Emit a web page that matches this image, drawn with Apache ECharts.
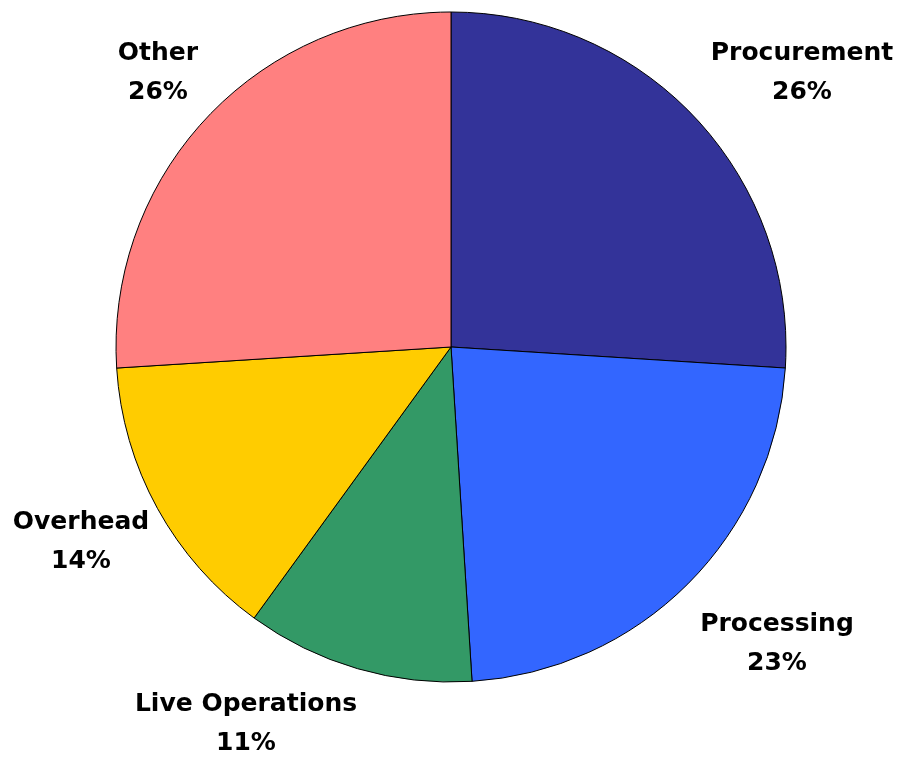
<!DOCTYPE html>
<html>
<head>
<meta charset="utf-8">
<style>
  html, body { margin: 0; padding: 0; background: #ffffff; }
  #chart { width: 900px; height: 760px; }
</style>
<script src="https://cdn.jsdelivr.net/npm/echarts@6/dist/echarts.min.js"></script>
</head>
<body>
<div id="chart"></div>
<script>
// Cost breakdown by area, clockwise from 12 o'clock
const categories = ['Procurement', 'Processing', 'Live Operations', 'Overhead', 'Other'];
const shares = [26, 23, 11, 14, 26];
const colors = ['#333399', '#3366FF', '#339966', '#FFCC00', '#FF8080'];

// Centre of each two-line label block, in pixels, same order as categories
const labelSpots = [[802, 73], [777, 644], [246, 724], [81, 542], [158, 73]];

const chart = echarts.init(document.getElementById('chart'));
chart.setOption({
  animation: false,
  series: [{
    type: 'pie',
    center: [451, 347],
    radius: 335,
    startAngle: 90,
    clockwise: true,
    data: categories.map((name, i) => ({
      name: name,
      value: shares[i],
      itemStyle: { color: colors[i] }
    })),
    itemStyle: { borderColor: '#000000', borderWidth: 1 },
    label: {
      show: true,
      position: 'outside',
      formatter: '{b}\n{c}%',
      fontFamily: 'DejaVu Sans, sans-serif',
      fontWeight: 'bold',
      fontSize: 25,
      lineHeight: 39,
      color: '#000000',
      overflow: 'none',
      width: 300
    },
    labelLine: { show: false },
    labelLayout: function (params) {
      const spot = labelSpots[params.dataIndex];
      return { x: spot[0], y: spot[1], align: 'center', verticalAlign: 'middle', width: 300 };
    },
    emphasis: { disabled: true }
  }]
});
</script>
</body>
</html>
